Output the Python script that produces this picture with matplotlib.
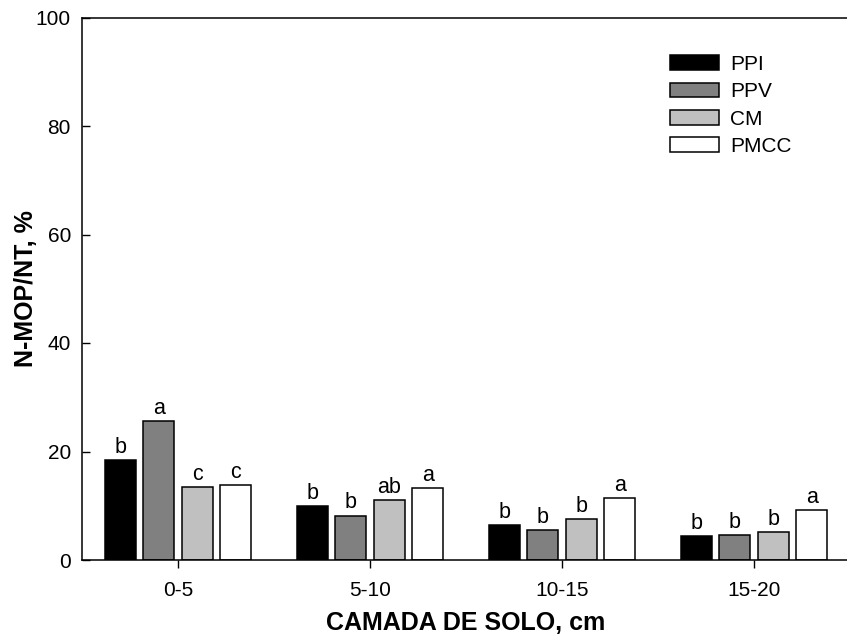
import matplotlib
matplotlib.use("Agg")
import matplotlib.pyplot as plt
import numpy as np

plt.rcParams['font.family'] = ['Liberation Sans', 'DejaVu Sans']

categories = ["0-5", "5-10", "10-15", "15-20"]
series_names = ["PPI", "PPV", "CM", "PMCC"]
PPI = [18.5, 10.0, 6.5, 4.4]
PPV = [25.6, 8.2, 5.5, 4.6]
CM = [13.5, 11.0, 7.6, 5.1]
PMCC = [13.9, 13.2, 11.4, 9.2]
letters_PPI = ["b", "b", "b", "b"]
letters_PPV = ["a", "b", "b", "b"]
letters_CM = ["c", "ab", "b", "b"]
letters_PMCC = ["c", "a", "a", "a"]
yticks = [0, 20, 40, 60, 80, 100]

values = [PPI, PPV, CM, PMCC]
letters = [letters_PPI, letters_PPV, letters_CM, letters_PMCC]
colors = ["#000000", "#808080", "#c0c0c0", "#ffffff"]

W, H = 847, 637
fig = plt.figure(figsize=(W / 100, H / 100), dpi=100)
ax = fig.add_axes([82 / W, 77 / H, (850 - 82) / W, (560 - 17.5) / H])

x = np.arange(len(categories))
pitch = 0.2
width = 0.163
for i, (vals, col, lab, lets) in enumerate(zip(values, colors, series_names, letters)):
    pos = x + (i - 1.5) * pitch
    ax.bar(pos, vals, width=width, color=col, edgecolor="black", linewidth=1.1, label=lab, zorder=2)
    for px_, v, t in zip(pos, vals, lets):
        ax.annotate(t, (px_, v), xytext=(0, 1.5), textcoords="offset points",
                    ha="center", va="bottom", fontsize=15.5)

ax.set_xlim(-0.5, 3.5)
ax.set_ylim(0, 100)
ax.set_yticks(yticks)
ax.set_xticks(x)
ax.set_xticklabels(categories)
ax.tick_params(axis="y", direction="in", length=5.4, width=1.0, labelsize=15, pad=8)
ax.tick_params(axis="x", direction="out", length=5.4, width=1.0, labelsize=15, pad=10)
ax.spines["right"].set_visible(False)
for s in ["left", "bottom", "top"]:
    ax.spines[s].set_linewidth(1.1)

ax.set_xlabel("CAMADA DE SOLO, cm", fontsize=18, fontweight="bold", labelpad=8)
ax.set_ylabel("N-MOP/NT, %", fontsize=18, fontweight="bold", va="center")
ax.yaxis.set_label_coords((26 - 82) / 768, 0.5)

leg = ax.legend(loc="upper left", bbox_to_anchor=(670 / W, 1 - 55 / H),
                bbox_transform=fig.transFigure, frameon=False, fontsize=15,
                handlelength=2.35, handleheight=0.72, handletextpad=0.55,
                labelspacing=0.40, borderpad=0, borderaxespad=0)

fig.savefig("out.png", dpi=100)
